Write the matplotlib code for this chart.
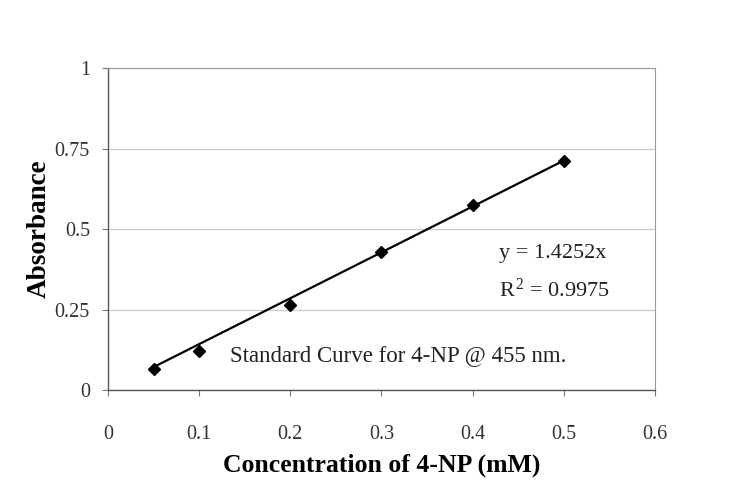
import matplotlib
matplotlib.use("Agg")
import matplotlib.pyplot as plt
import numpy as np

conc = [0.05, 0.1, 0.2, 0.3, 0.4, 0.5]
absorb = [0.065, 0.12, 0.265, 0.43, 0.575, 0.712]
slope = 1.4252
x_ticks = [0, 0.1, 0.2, 0.3, 0.4, 0.5, 0.6]
x_tick_labels = ["0", "0.1", "0.2", "0.3", "0.4", "0.5", "0.6"]
y_ticks = [0, 0.25, 0.5, 0.75, 1]
y_tick_labels = ["0", "0.25", "0.5", "0.75", "1"]

plt.rcParams['font.family'] = ['Liberation Serif', 'DejaVu Serif']
plt.rcParams['mathtext.fontset'] = 'custom'
plt.rcParams['mathtext.rm'] = 'Liberation Serif'
plt.rcParams['mathtext.it'] = 'Liberation Serif:italic'

fig = plt.figure(figsize=(7.42, 4.86), dpi=100)
ax = fig.add_axes([0.1456, 0.1975, 0.737, 0.6625])

fit_x = np.array([conc[0], conc[-1]])
ax.plot(fit_x, slope * fit_x, color='black', lw=1.6, zorder=3)
ax.plot(conc, absorb, linestyle='none', marker='D', color='black', ms=6, zorder=4)

ax.set_xlim(0, 0.6)
ax.set_ylim(0, 1)
ax.set_xticks(x_ticks)
ax.set_xticklabels(x_tick_labels)
ax.set_yticks(y_ticks)
ax.set_yticklabels(y_tick_labels)
ax.tick_params(axis='both', labelsize=14.5, color='#777777', length=4, width=0.8, colors='#333333')
ax.tick_params(axis='x', pad=21)
ax.tick_params(axis='y', pad=9)
ax.grid(axis='y', color='#cccccc', lw=0.9)
ax.set_axisbelow(True)
for side in ['top', 'right']:
    ax.spines[side].set_color('#999999')
    ax.spines[side].set_linewidth(0.8)
for side in ['left', 'bottom']:
    ax.spines[side].set_color('#555555')
    ax.spines[side].set_linewidth(1.0)

ax.set_xlabel("Concentration of 4-NP (mM)", fontsize=18.5, fontweight='bold', labelpad=7)
ax.set_ylabel("Absorbance", fontsize=19.5, fontweight='bold', labelpad=2)

ax.text(0.429, 0.425, "y = 1.4252x", fontsize=16, color='#222222', va='center')
ax.text(0.429, 0.31, "R$^{\\,2}$ = 0.9975", fontsize=16, color='#222222', va='center')
ax.text(0.134, 0.108, "Standard Curve for 4-NP @ 455 nm.", fontsize=16.5, color='#222222', va='center')

fig.savefig("out.png", dpi=100, facecolor='white')
